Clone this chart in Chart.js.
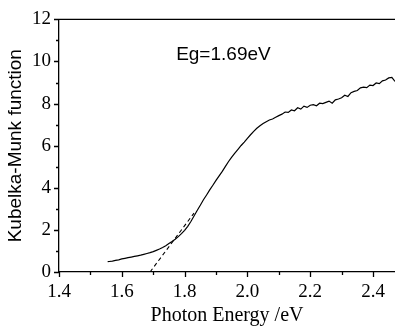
<!DOCTYPE html>
<html>
<head>
<meta charset="utf-8">
<script src="https://cdn.jsdelivr.net/npm/chart.js@4/dist/chart.umd.min.js"></script>
<style>
  html, body { margin: 0; padding: 0; background: #fff; }
  #wrap { width: 395px; height: 328px; position: relative; }
</style>
</head>
<body>
<div id="wrap"><canvas id="kmChart"></canvas></div>
<script>
// Kubelka-Munk function vs photon energy.
const energy = [
  1.555, 1.56, 1.57, 1.58, 1.59, 1.60, 1.61, 1.62, 1.63, 1.64, 1.65, 1.66, 1.67, 1.68, 1.69,
  1.70, 1.71, 1.72, 1.73, 1.74, 1.75, 1.76, 1.77, 1.78, 1.79, 1.80, 1.81, 1.82, 1.83, 1.84,
  1.85, 1.86, 1.87, 1.88, 1.89, 1.90, 1.91, 1.92, 1.93, 1.94, 1.95, 1.96, 1.97, 1.98, 1.99,
  2.00, 2.01, 2.02, 2.03, 2.04, 2.05, 2.06, 2.07, 2.08, 2.09, 2.10, 2.11, 2.12, 2.13, 2.14,
  2.15, 2.16, 2.17, 2.18, 2.19, 2.20, 2.21, 2.22, 2.23, 2.24, 2.25, 2.26, 2.27, 2.28, 2.29,
  2.30, 2.31, 2.32, 2.33, 2.34, 2.35, 2.36, 2.37, 2.38, 2.39, 2.40, 2.41, 2.42, 2.43, 2.44,
  2.45, 2.46, 2.47
];
const kmValue = [
  0.49, 0.50, 0.52, 0.55, 0.58, 0.62, 0.65, 0.68, 0.71, 0.74, 0.77, 0.80, 0.84, 0.88, 0.92,
  0.97, 1.03, 1.09, 1.16, 1.25, 1.35, 1.45, 1.56, 1.68, 1.82, 1.98, 2.17, 2.40, 2.66, 2.92,
  3.17, 3.43, 3.66, 3.90, 4.12, 4.35, 4.57, 4.78, 5.02, 5.25, 5.46, 5.65, 5.83, 6.01, 6.17,
  6.35, 6.52, 6.68, 6.83, 6.95, 7.05, 7.14, 7.22, 7.27, 7.35, 7.43, 7.50, 7.60, 7.58, 7.70,
  7.66, 7.80, 7.74, 7.88, 7.82, 7.92, 7.95, 7.90, 8.02, 8.00, 8.06, 8.12, 8.02, 8.18, 8.22,
  8.28, 8.40, 8.34, 8.52, 8.58, 8.62, 8.75, 8.78, 8.76, 8.88, 8.86, 8.98, 8.95, 9.08, 9.12,
  9.22, 9.24, 9.05
];
// linear extrapolation of the absorption edge
const fitEnergy = [1.69, 1.83];
const fitValue = [0, 2.8];

const xTicks = [1.4, 1.6, 1.8, 2.0, 2.2, 2.4];
const yTicks = [0, 2, 4, 6, 8, 10, 12];
const gapLabel = "Eg=1.69eV";

const toPoints = (xs, ys) => xs.map((x, i) => ({ x: x, y: ys[i] }));

// outward major/minor ticks, top frame line and the Eg note
const frame = {
  id: "frame",
  afterDraw(chart) {
    const ctx = chart.ctx;
    const a = chart.chartArea;
    const xs = chart.scales.x, ys = chart.scales.y;
    ctx.save();
    ctx.strokeStyle = "#000";
    ctx.lineWidth = 1.3;
    ctx.beginPath();
    ctx.moveTo(a.left, a.top);
    ctx.lineTo(a.right, a.top);
    for (let i = 0; i <= 10; i++) {
      const v = 1.4 + i * 0.1;
      const px = Math.round(xs.getPixelForValue(v)) + 0.5;
      ctx.moveTo(px, a.bottom);
      ctx.lineTo(px, a.bottom + (i % 2 === 0 ? 5 : 3));
    }
    for (let v = 0; v <= 12; v++) {
      const py = Math.round(ys.getPixelForValue(v)) + 0.5;
      ctx.moveTo(a.left, py);
      ctx.lineTo(a.left - (v % 2 === 0 ? 5 : 3), py);
    }
    ctx.stroke();
    ctx.fillStyle = "#000";
    ctx.font = '19px "Liberation Sans", Arial, sans-serif';
    ctx.textAlign = "left";
    ctx.textBaseline = "middle";
    ctx.fillText(gapLabel, xs.getPixelForValue(1.773), ys.getPixelForValue(10.3));
    ctx.restore();
  }
};

new Chart(document.getElementById("kmChart"), {
  type: "scatter",
  data: {
    datasets: [
      {
        data: toPoints(energy, kmValue),
        showLine: true,
        borderColor: "#000",
        borderWidth: 1.2,
        pointRadius: 0,
        tension: 0
      },
      {
        data: toPoints(fitEnergy, fitValue),
        showLine: true,
        borderColor: "#000",
        borderWidth: 1.1,
        borderDash: [4, 3],
        pointRadius: 0
      }
    ]
  },
  options: {
    responsive: true,
    maintainAspectRatio: false,
    animation: false,
    layout: { padding: { top: 19, right: 0, left: 0, bottom: 0 } },
    plugins: { legend: { display: false }, tooltip: { enabled: false } },
    scales: {
      x: {
        type: "linear",
        min: 1.4,
        max: 2.47,
        afterBuildTicks: (s) => { s.ticks = xTicks.map((v) => ({ value: v })); },
        afterFit: (s) => { s.height = 56; },
        grid: { display: false, drawTicks: false },
        border: { display: true, color: "#000", width: 1.3 },
        ticks: {
          padding: 9,
          color: "#000",
          font: { family: '"Liberation Serif", "Times New Roman", serif', size: 19 },
          callback: (v) => Number(v).toFixed(1)
        },
        title: {
          display: true,
          text: "Photon Energy /eV",
          color: "#000",
          padding: { top: 0, bottom: 0 },
          font: { family: '"Liberation Serif", "Times New Roman", serif', size: 20 }
        }
      },
      y: {
        min: 0,
        max: 12,
        afterBuildTicks: (s) => { s.ticks = yTicks.map((v) => ({ value: v })); },
        afterFit: (s) => { s.width = 59; },
        grid: { display: false, drawTicks: false },
        border: { display: true, color: "#000", width: 1.3 },
        ticks: {
          padding: 8,
          color: "#000",
          font: { family: '"Liberation Serif", "Times New Roman", serif', size: 19 }
        },
        title: {
          display: true,
          text: "Kubelka-Munk function",
          color: "#000",
          padding: { top: 4, bottom: 0 },
          font: { family: '"Liberation Sans", Arial, sans-serif', size: 19 }
        }
      }
    }
  },
  plugins: [frame]
});
</script>
</body>
</html>
